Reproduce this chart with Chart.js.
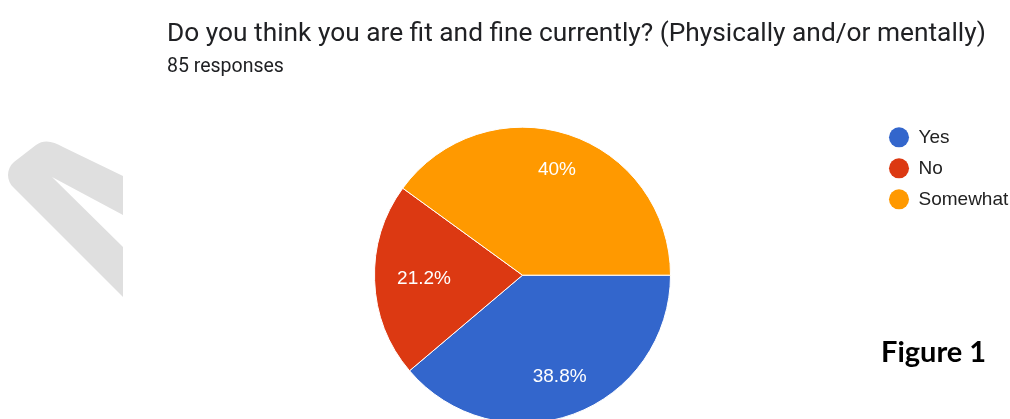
<!DOCTYPE html>
<html>
<head>
<meta charset="utf-8">
<script src="https://cdn.jsdelivr.net/npm/chart.js@4.4.1/dist/chart.umd.min.js"></script>
<style>
  html, body { margin: 0; padding: 0; background: #fff; overflow: hidden; }
  #wrap { position: absolute; left: 0; top: 0; width: 1010px; height: 434px; }
  #mark { position: absolute; left: 0; top: 0; }
  #fig { position: absolute; left: 881px; top: 336px; font: bold 29px Lato, sans-serif; line-height: 1; color: #000; }
</style>
</head>
<body>
<svg id="mark" width="130" height="320">
  <path d="M123,176 L63,147 C53,141 44,139 36,145 L14,162 C6,169 6,181 14,188 L123,297 L123,247 L52,177 L123,215 Z" fill="#dfdfdf"/>
</svg>
<div id="wrap"><canvas id="myChart"></canvas></div>
<div id="fig">Figure 1</div>
<script>
const labels = ['Yes', 'No', 'Somewhat'];
const responses = [33, 18, 34];
const colors = ['#3366cc', '#dc3912', '#ff9900'];
const titleText = 'Do you think you are fit and fine currently? (Physically and/or mentally)';
const subtitleText = '85 responses';

// percentage text inside each slice
const sliceLabels = {
  id: 'sliceLabels',
  afterDatasetsDraw(chart) {
    const ctx = chart.ctx;
    const meta = chart.getDatasetMeta(0);
    const total = responses.reduce((a, b) => a + b, 0);
    ctx.save();
    ctx.font = '19px "Liberation Sans", Arial, sans-serif';
    ctx.fillStyle = '#fff';
    ctx.textAlign = 'center';
    ctx.textBaseline = 'middle';
    meta.data.forEach((arc, i) => {
      const p = arc.getProps(['x', 'y', 'startAngle', 'endAngle', 'outerRadius'], true);
      const mid = (p.startAngle + p.endAngle) / 2;
      const txt = +(responses[i] / total * 100).toFixed(1) + '%';
      const w = ctx.measureText(txt).width;
      const d = p.outerRadius * 0.85 - (Math.abs(Math.cos(mid)) * w / 2 + Math.abs(Math.sin(mid)) * 9);
      ctx.fillText(txt, p.x + Math.cos(mid) * d, p.y + Math.sin(mid) * d);
    });
    ctx.restore();
  }
};

const ctx = document.getElementById('myChart');
new Chart(ctx, {
  type: 'pie',
  data: {
    labels: labels,
    datasets: [{
      data: responses,
      backgroundColor: colors,
      borderColor: '#fff',
      borderWidth: 1,
      radius: 148,
    }],
  },
  options: {
    responsive: true,
    maintainAspectRatio: false,
    animation: false,
    events: [],
    rotation: 90,
    layout: { padding: { left: 167, right: 0, top: 0, bottom: 0 } },
    plugins: {
      tooltip: { enabled: false },
      title: {
        display: true,
        text: titleText,
        align: 'start',
        color: '#202124',
        font: { family: 'Roboto', size: 26.3, weight: 'normal' },
        padding: { top: 19, bottom: 0 },
      },
      subtitle: {
        display: true,
        text: subtitleText,
        align: 'start',
        color: '#202124',
        font: { family: 'Roboto', size: 19.5, weight: 'normal' },
        padding: { top: 5.1, bottom: 37.3 },
      },
      legend: {
        position: 'right',
        align: 'start',
        fullSize: false,
        maxWidth: 132,
        labels: {
          boxWidth: 20,
          boxHeight: 20,
          padding: 11,
          color: '#222',
          font: { family: 'Liberation Sans', size: 19 },
          generateLabels: () => labels.map((text, i) => ({
            text: text,
            fillStyle: colors[i],
            strokeStyle: colors[i],
            lineWidth: 0,
            borderRadius: 10,
            fontColor: '#222',
            hidden: false,
            index: i,
          })),
        },
      },
    },
  },
  plugins: [sliceLabels],
});
</script>
</body>
</html>
